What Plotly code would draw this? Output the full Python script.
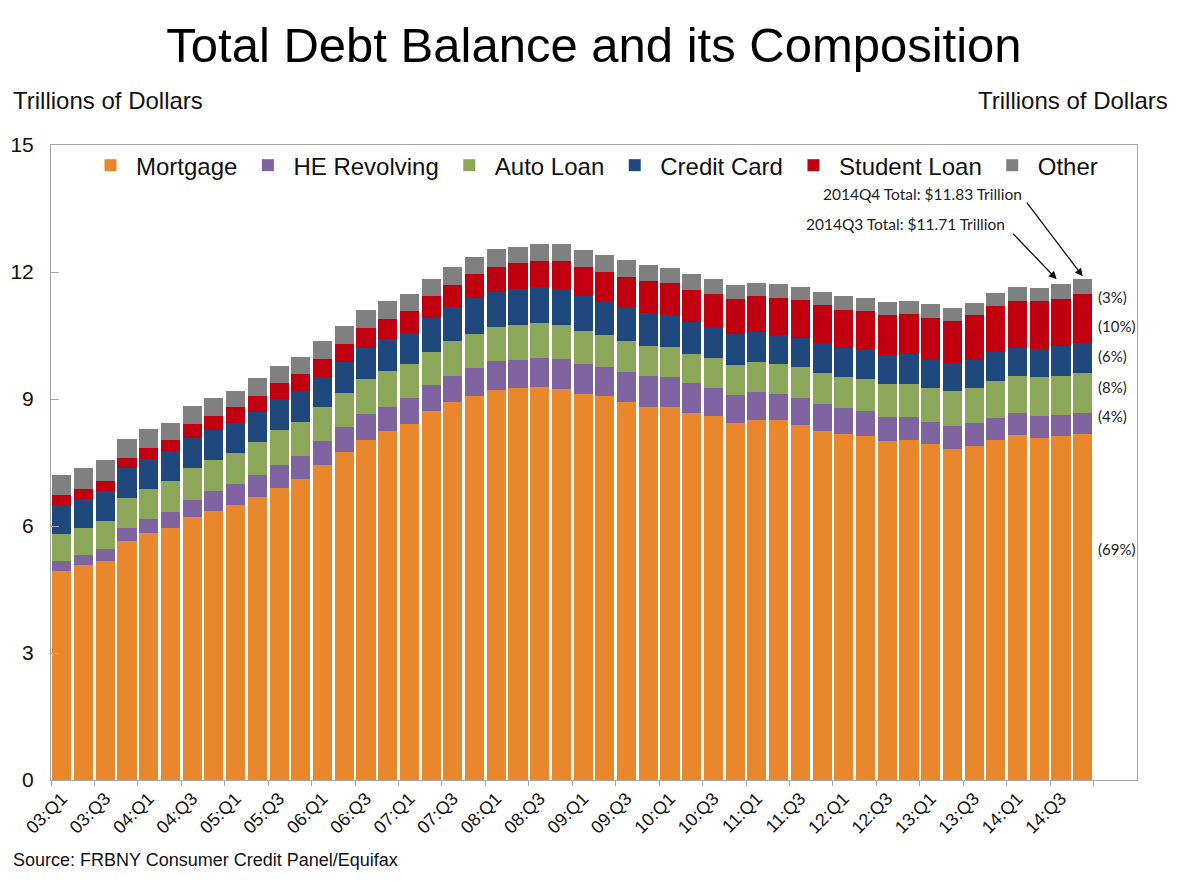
import plotly.graph_objects as go

# quarterly balances, trillions of dollars, 2003Q1 .. 2014Q4
quarters = ["%02d:Q%d" % (y, q) for y in range(3, 15) for q in range(1, 5)]

mortgage = [4.94, 5.07, 5.17, 5.65, 5.83, 5.95, 6.21, 6.35, 6.50, 6.68, 6.90, 7.10,
            7.43, 7.75, 8.03, 8.24, 8.41, 8.71, 8.93, 9.08, 9.21, 9.26, 9.28, 9.24,
            9.13, 9.06, 8.94, 8.82, 8.82, 8.68, 8.60, 8.44, 8.51, 8.50, 8.38, 8.24,
            8.17, 8.13, 8.01, 8.03, 7.93, 7.83, 7.88, 8.03, 8.14, 8.09, 8.13, 8.17]
he_revolving = [0.23, 0.25, 0.28, 0.30, 0.33, 0.37, 0.41, 0.47, 0.49, 0.53, 0.53, 0.55,
                0.58, 0.60, 0.62, 0.58, 0.61, 0.61, 0.61, 0.66, 0.68, 0.67, 0.70, 0.71,
                0.70, 0.70, 0.69, 0.72, 0.69, 0.69, 0.67, 0.66, 0.66, 0.62, 0.64, 0.64,
                0.62, 0.59, 0.57, 0.55, 0.53, 0.54, 0.55, 0.53, 0.54, 0.51, 0.49, 0.49]
auto_loan = [0.63, 0.63, 0.68, 0.70, 0.71, 0.74, 0.75, 0.73, 0.74, 0.78, 0.84, 0.80,
             0.79, 0.79, 0.82, 0.83, 0.80, 0.79, 0.84, 0.80, 0.80, 0.81, 0.81, 0.79,
             0.78, 0.75, 0.74, 0.71, 0.73, 0.70, 0.70, 0.71, 0.70, 0.71, 0.74, 0.73,
             0.73, 0.76, 0.78, 0.78, 0.79, 0.81, 0.82, 0.87, 0.87, 0.91, 0.93, 0.96]
credit_card = [0.69, 0.68, 0.69, 0.71, 0.71, 0.70, 0.72, 0.72, 0.71, 0.71, 0.73, 0.73,
               0.72, 0.73, 0.74, 0.76, 0.75, 0.81, 0.80, 0.84, 0.83, 0.85, 0.85, 0.85,
               0.83, 0.81, 0.81, 0.79, 0.74, 0.76, 0.73, 0.73, 0.71, 0.69, 0.69, 0.71,
               0.69, 0.67, 0.67, 0.70, 0.68, 0.68, 0.68, 0.68, 0.66, 0.66, 0.70, 0.71]
student_loan = [0.24, 0.25, 0.24, 0.25, 0.26, 0.26, 0.32, 0.34, 0.37, 0.38, 0.38, 0.40,
                0.43, 0.44, 0.47, 0.49, 0.52, 0.51, 0.52, 0.57, 0.60, 0.62, 0.61, 0.67,
                0.68, 0.69, 0.70, 0.75, 0.76, 0.75, 0.78, 0.82, 0.85, 0.87, 0.88, 0.89,
                0.90, 0.93, 0.96, 0.95, 0.98, 0.99, 1.05, 1.08, 1.11, 1.14, 1.11, 1.16]
other = [0.48, 0.49, 0.49, 0.44, 0.44, 0.42, 0.42, 0.41, 0.39, 0.41, 0.40, 0.42,
         0.43, 0.42, 0.43, 0.41, 0.40, 0.41, 0.42, 0.41, 0.42, 0.39, 0.42, 0.40,
         0.39, 0.39, 0.40, 0.37, 0.36, 0.37, 0.36, 0.34, 0.31, 0.33, 0.31, 0.31,
         0.32, 0.31, 0.31, 0.31, 0.33, 0.29, 0.29, 0.31, 0.32, 0.31, 0.35, 0.34]

series = [
    ("Mortgage", mortgage, "#E8872B"),
    ("HE Revolving", he_revolving, "#8064A2"),
    ("Auto Loan", auto_loan, "#8DA75A"),
    ("Credit Card", credit_card, "#1F497D"),
    ("Student Loan", student_loan, "#C00010"),
    ("Other", other, "#808080"),
]

FONT = "Liberation Sans, Arial, sans-serif"
NOTE_FONT = "Lato, Liberation Sans, sans-serif"

idx = list(range(len(quarters)))
fig = go.Figure()
for name, vals, color in series:
    fig.add_trace(go.Bar(x=idx, y=vals, name=name, marker_color=color,
                         marker_line_width=0))

# share of the latest quarter, shown at the right of the last bar
last_total = sum(vals[-1] for _, vals, _ in series)
pct_y = [5.46, 8.60, 9.28, 10.02, 10.72, 11.41]
for (name, vals, _), yy in zip(series, pct_y):
    fig.add_annotation(x=len(quarters) - 0.4, y=yy, xanchor="left",
                       text="(%d%%)" % round(100 * vals[-1] / last_total),
                       showarrow=False, font=dict(family=NOTE_FONT, size=15, color="#222"))

fig.add_annotation(x=44.3, y=13.84, xanchor="right", showarrow=False,
                   text="2014Q4 Total: $11.83 Trillion",
                   font=dict(family=NOTE_FONT, size=15.5, color="#222"))
fig.add_annotation(x=43.5, y=13.13, xanchor="right", showarrow=False,
                   text="2014Q3 Total: $11.71 Trillion",
                   font=dict(family=NOTE_FONT, size=15.5, color="#222"))
fig.add_annotation(x=47, y=11.9, ax=-57, ay=-75, text="", showarrow=True,
                   arrowhead=2, arrowsize=1.2, arrowwidth=1.3, arrowcolor="#111")
fig.add_annotation(x=45.8, y=11.83, ax=-45, ay=-47, text="", showarrow=True,
                   arrowhead=2, arrowsize=1.2, arrowwidth=1.3, arrowcolor="#111")

fig.add_annotation(x=0, y=1.0, xref="paper", yref="paper", xanchor="left", yanchor="middle",
                   text="Trillions of Dollars", showarrow=False, xshift=-40, yshift=45,
                   font=dict(family=FONT, size=24, color="#111"))
fig.add_annotation(x=1.0, y=1.0, xref="paper", yref="paper", xanchor="right", yanchor="middle",
                   text="Trillions of Dollars", showarrow=False, xshift=33, yshift=45,
                   font=dict(family=FONT, size=24, color="#111"))
fig.add_annotation(x=0, y=0, xref="paper", yref="paper", xanchor="left", yanchor="middle",
                   text="Source: FRBNY Consumer Credit Panel/Equifax", showarrow=False,
                   xshift=-40, yshift=-80,
                   font=dict(family=FONT, size=18, color="#111"))

axis_grey = "#A6A6A6"
fig.update_layout(
    width=1184, height=874,
    barmode="stack", bargap=0.12,
    plot_bgcolor="white", paper_bgcolor="white",
    margin=dict(l=43, r=55, t=137, b=102),
    title=dict(text="Total Debt Balance and its Composition", x=0.5, xanchor="center",
               xref="paper", y=1 - 37 / 874, yanchor="middle",
               font=dict(family=FONT, size=49, color="#000")),
    legend=dict(orientation="h", x=0.5, xanchor="center", y=1.003, yanchor="top",
                font=dict(family=FONT, size=24, color="#111"), bgcolor="rgba(0,0,0,0)",
                traceorder="normal", itemwidth=41),
    xaxis=dict(range=[-0.5, len(quarters) + 1.5], tickmode="array", automargin=False,
               tickvals=idx[::2], ticktext=quarters[::2], tickangle=-45,
               ticks="", showline=True, linecolor=axis_grey, mirror=True,
               showgrid=False, zeroline=False,
               tickfont=dict(family=FONT, size=18, color="#111"),
               minor=dict(tickmode="array", tickvals=[i - 0.5 for i in idx[::2]] + [len(quarters) - 0.5],
                          ticks="outside", ticklen=5, tickcolor=axis_grey, showgrid=False)),
    yaxis=dict(range=[0, 15], dtick=3, ticks="inside", ticklen=8, tickcolor=axis_grey,
               showline=True, linecolor=axis_grey, mirror=True, showgrid=False,
               zeroline=False, ticklabelstandoff=12, automargin=False,
               tickfont=dict(family=FONT, size=21, color="#111")),
    yaxis2=dict(range=[0, 15], dtick=3, overlaying="y", side="right", ticks="inside",
                ticklen=8, tickcolor=axis_grey, showline=False, showgrid=False,
                zeroline=False, ticklabelstandoff=8, automargin=False,
                tickfont=dict(family=FONT, size=21, color="#111")),
)

fig.write_html("out.html")
